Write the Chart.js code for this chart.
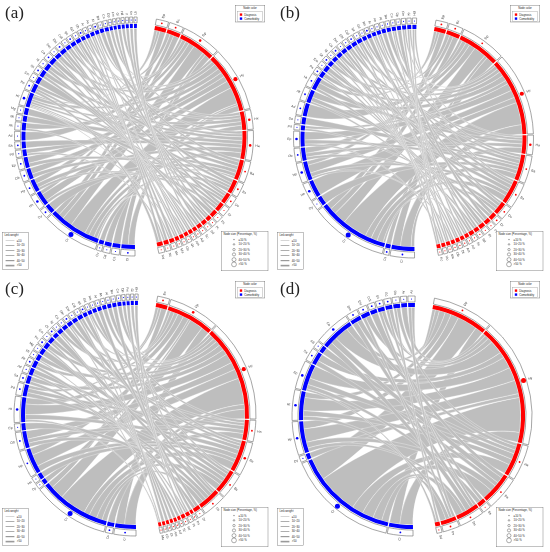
<!DOCTYPE html>
<html><head><meta charset="utf-8">
<script src="https://cdn.jsdelivr.net/npm/chart.js@4.4.1/dist/chart.umd.min.js"></script>
<style>
html,body{margin:0;padding:0;background:#fff}
body{width:550px;height:552px;position:relative;overflow:hidden;font-family:"Liberation Sans",Arial,sans-serif}
.panel{position:absolute;width:275px;height:276px}
.panel canvas{position:absolute;left:0;top:0}
.tag{position:absolute;left:5px;top:3px;font-family:"Liberation Serif","DejaVu Serif",serif;font-size:17px;line-height:20px;color:#222}
.lg{position:absolute;transform:scale(0.4);transform-origin:0 0;border:1.3px solid #666;background:#fff;font:7px/9px "Liberation Sans",Arial,sans-serif;color:#222;box-sizing:border-box}
.nc{left:235px;top:5px;width:75px;height:43px}
.nc .t{text-align:center;padding-top:3px;height:11px}
.nc .in{margin:1px 5px;border:1px solid #999;padding:2px 5px}
.nc .in div{height:10px;display:flex;align-items:center}
.nc i{display:inline-block;width:6px;height:6px;margin-right:5px}
.lw{left:2px;top:232px;width:66px;height:94px;padding:3px 5px}
.lw .t{margin-bottom:2px}
.lw .r{height:12.5px;display:flex;align-items:center;padding-left:3px}
.lw b{display:inline-block;width:22px;background:#9a9a9a;margin-right:6px}
.ns{left:221px;top:231px;width:118px;height:100px;padding:3px 5px}
.ns .t{margin-bottom:2px}
.ns .r{height:12.5px;display:flex;align-items:center;padding-left:18px}
.ns .c{display:inline-flex;width:16px;justify-content:center;align-items:center;margin-right:4px}
.ns s{display:inline-block;border:1px solid #333;border-radius:50%;box-sizing:border-box;background:#fff}
</style></head>
<body>
<div class="panel" id="pa" style="left:0;top:0"><canvas id="ca" width="275" height="276"></canvas><div class="tag">(a)</div></div>
<div class="panel" id="pb" style="left:275px;top:0"><canvas id="cb" width="275" height="276"></canvas><div class="tag">(b)</div></div>
<div class="panel" id="pc" style="left:0;top:276px"><canvas id="cc" width="275" height="276"></canvas><div class="tag">(c)</div></div>
<div class="panel" id="pd" style="left:275px;top:276px"><canvas id="cd" width="275" height="276"></canvas><div class="tag">(d)</div></div>
<script>
// ---------- legend texts ----------
const colorLegendTitle = "Node color";
const colorLegendItems = ["Diagnosis", "Comorbidity"];
const linkLegendTitle = "Link weight";
const linkLegendItems = ["≤10", "10~20", "20~30", "30~40", "40~50", ">50"];
const sizeLegendTitle = "Node size (Percentage, %)";
const sizeLegendItems = ["≤10 %", "10~20 %", "20~30 %", "30~40 %", "40~50 %", ">50 %"];

// ---------- panel (a) ----------
const aRedSize = [6, 7, 19, 31.5, 9.5, 14.5, 10.5, 7, 5.5, 4.5, 3.5, 2.5, 2.5, 2.5, 2, 2, 2, 2, 2, 2.5, 2.5, 3];
const aRedPct  = [1, 1, 2, 4, 2, 2, 1, 1, 1, 0, 0, 0, 0, 0, 0, 0, 0, 0, 0, 0, 0, 0];
const aRedLab  = ["Bp","Bc","Dp","Hy","Hx","Ha","Ba","Bs","Ds","Dr","Ps","Pt","Sd","Sc","Ad","Am","Ot","Ob","Ma","Mo","Nc","Nd"];
const aBlueSize = [7, 4, 3.5, 2.5, 27.5, 4.5, 7.5, 6.5, 5.5, 5.5, 3.5, 3.5, 4.5, 4, 3, 3.5, 7.5, 4.5, 3.5, 3.5, 3.5, 3.5, 3, 3, 2.5, 2.5, 2.5, 2, 2, 2, 2, 2, 2, 1.5, 1.5, 1.5, 1.5, 1.5, 1.5, 1.5];
const aBluePct  = [1, 0, 0, 0, 5, 1, 2, 1, 1, 1, 0, 1, 0, 0, 0, 0, 2, 1, 0, 1, 0, 1, 0, 1, 0, 1, 0, 1, 0, 0, 1, 0, 0, 0, 0, 0, 0, 0, 0, 0];
const aBlueLab  = ["Ci","Cs","Cd","Cv","Cr","Dy","Hn","Hp","Ob","Ep","Pd","Sa","Ad","Ak","Mi","Mg","Ht","Pn","Em","Ot","Ig","Ca","Dm","Ehl","Cdl","Ipt","Gd","Rh","Ar","As","Al","Ba","Co","Dp","Fm","Gi","Hd","Ir","Ks","Lb"];
const aLinks = [
 [0,4,3],[0,16,1.5],[0,30,1.5],
 [1,4,3],[1,6,2],[1,25,2],
 [2,4,6],[2,0,3],[2,7,3],[2,12,2],[2,20,2],[2,33,1.5],[2,1,1.5],
 [3,4,9],[3,0,3],[3,6,4],[3,8,3],[3,9,2.5],[3,13,2.5],[3,16,3],[3,22,2],[3,27,1.5],[3,2,1],
 [4,4,2.5],[4,10,2],[4,16,2],[4,24,1.5],[4,36,1.5],
 [5,4,3],[5,7,2.5],[5,11,2],[5,14,2],[5,17,2],[5,19,1.5],[5,28,1.5],
 [6,5,2],[6,8,2],[6,16,2],[6,21,2],[6,31,1.5],[6,3,1],
 [7,4,2],[7,9,1.5],[7,18,1.5],[7,26,2],
 [8,6,1.5],[8,15,1.5],[8,23,1.5],[8,34,1],
 [9,7,1.5],[9,17,1.5],[9,29,1.5],
 [10,16,1.5],[10,32,1],
 [11,19,1],[11,35,1],
 [12,20,1.5],[12,37,1],
 [13,16,1],[13,38,1],
 [14,21,1],[14,39,1],
 [15,22,1],[15,25,1],
 [16,23,1],[16,4,1],
 [17,24,1],[17,30,1],
 [18,26,1],[18,13,1],
 [19,27,1.5],[19,16,1],
 [20,28,1.5],[20,10,1],
 [21,29,1.5],[21,17,1.5]
];

// ---------- panel (b) ----------
const bRedSize = [6, 7, 22, 40.5, 9.5, 13.5, 12.5, 6.5, 3.5, 3, 3, 2.5, 2.5, 2, 2, 2, 2, 2, 2, 2];
const bRedPct  = [1, 1, 1, 4, 2, 1, 1, 1, 1, 0, 0, 0, 0, 0, 0, 0, 0, 0, 0, 0];
const bRedLab  = ["Bp","Bc","Dp","Hy","Ha","Ba","Bs","Ds","Dr","Ps","Pt","Sd","Sc","Ad","Am","Ot","Ob","Ma","Mo","Nc"];
const bBlueSize = [11.5, 2.5, 36.5, 4.5, 8.5, 9.5, 6.5, 7.5, 2.5, 3.5, 6.5, 6.5, 6.5, 3, 3, 2.5, 2.5, 2.5, 2.5, 2.5, 2.5, 2.5, 2, 2, 2, 2, 2, 2, 2, 2, 2, 2, 2];
const bBluePct  = [1, 1, 5, 0, 2, 2, 1, 2, 0, 0, 1, 1, 1, 1, 0, 1, 0, 1, 0, 0, 1, 0, 0, 1, 0, 0, 0, 0, 0, 0, 0, 0, 0];
const bBlueLab  = ["Ci","Cs","Cr","Dy","Hn","Hp","Ob","Ep","Pd","Sa","Ad","Ak","Ht","Pn","Em","Ot","Ig","Ca","Dm","Ehl","Cdl","Ipt","Gd","Rh","Ar","As","Al","Ba","Co","Dp","Fm","Gi","Hd"];
const bLinks = [
 [0,2,3],[0,12,1.5],[0,25,1.5],
 [1,2,3],[1,5,2],[1,20,2],
 [2,2,6],[2,0,4],[2,6,3],[2,10,2],[2,15,2],[2,28,1.5],[2,1,1.5],
 [3,2,12],[3,0,5],[3,4,3],[3,5,4],[3,7,4],[3,8,2],[3,11,3],[3,13,2.5],[3,17,2],[3,22,2],[3,30,1],
 [4,2,3],[4,6,2],[4,12,2],[4,19,1.5],[4,31,1],
 [5,2,3],[5,3,2],[5,7,2],[5,9,1.5],[5,14,2],[5,21,1.5],[5,27,1.5],
 [6,2,3],[6,5,2],[6,11,2],[6,16,2],[6,24,1.5],[6,32,1],
 [7,0,1.5],[7,6,1.5],[7,18,1.5],[7,26,1],
 [8,8,1.5],[8,23,1.5],
 [9,12,1],[9,29,1.5],
 [10,13,1],[10,20,1.5],
 [11,11,1],[11,25,1],
 [12,14,1],[12,28,1],
 [13,2,1],[13,22,1],
 [14,15,1],[14,30,1],
 [15,16,1],[15,24,1],
 [16,17,1],[16,5,1],
 [17,18,1],[17,31,1],
 [18,19,1],[18,7,1],
 [19,21,1],[19,32,1]
];

// ---------- panel (c) ----------
const cRedSize = [6, 25, 50.5, 10.5, 16.5, 12.5, 11.5, 3.5, 1.5, 2, 2, 1.5, 1.5, 1.5, 1.5, 1.5, 1.5];
const cRedPct  = [1, 2, 4, 1, 2, 1, 1, 0, 0, 0, 0, 0, 0, 0, 0, 0, 0];
const cRedLab  = ["Bc","Dp","Hy","Ha","Ba","Bs","Ds","Dr","Ps","Pt","Sd","Sc","Ad","Am","Ot","Ob","Ma"];
const cBlueSize = [10.5, 3.5, 36.5, 2.5, 3, 13, 8.5, 3.5, 12.5, 6, 4, 3.5, 3.5, 3, 3, 3, 3, 2.5, 2.5, 2.5, 2.5, 2.5, 2.5, 2, 2, 2, 2, 2, 2, 2, 2, 1.5, 1.5, 1.5, 1.5];
const cBluePct  = [1, 1, 5, 0, 0, 1, 1, 0, 2, 1, 1, 0, 1, 0, 0, 1, 0, 1, 0, 0, 1, 0, 0, 1, 0, 0, 0, 0, 0, 0, 0, 0, 0, 0, 0];
const cBlueLab  = ["Ci","Cs","Cr","Dy","Hn","Hp","Ob","Ep","Ht","Pd","Sa","Ad","Ak","Mi","Mg","Pn","Em","Ot","Ig","Ca","Dm","Ehl","Cdl","Ipt","Gd","Rh","Ar","As","Al","Ba","Co","Dp","Fm","Gi","Hd"];
const cLinks = [
 [0,2,3],[0,9,1.5],[0,22,1.5],
 [1,2,7],[1,0,4],[1,5,3],[1,8,3],[1,12,2],[1,18,2],[1,27,1.5],[1,3,1],
 [2,2,14],[2,0,5],[2,1,2.5],[2,5,5],[2,6,4],[2,8,5],[2,10,3],[2,13,3],[2,15,2.5],[2,20,2],[2,24,2],[2,30,1.5],
 [3,2,3],[3,6,2],[3,9,2],[3,16,1.5],[3,28,1.5],
 [4,2,4],[4,4,2],[4,5,2.5],[4,8,2.5],[4,11,2],[4,19,1.5],[4,25,1.5],
 [5,2,3],[5,6,2],[5,9,2],[5,14,2],[5,21,1.5],[5,31,1],
 [6,2,2.5],[6,7,2],[6,10,2],[6,17,2],[6,23,1.5],[6,33,1],
 [7,12,1.5],[7,26,1.5],
 [8,29,1],
 [9,13,1],[9,32,1],
 [10,15,1],[10,34,1],
 [11,11,1],
 [12,18,1],
 [13,20,1],
 [14,22,1],
 [15,24,1],
 [16,8,1],[16,16,1]
];

// ---------- panel (d) ----------
const dRedSize = [29, 62, 17, 16, 4, 12, 8, 2.5];
const dRedPct  = [1, 5, 1, 1, 0, 1, 1, 0];
const dRedLab  = ["Dp","Hy","Ha","Ba","Bs","Ds","Ps","Sd"];
const dBlueSize = [12.5, 54.5, 3, 16.5, 15, 14, 6.5, 3.5, 17.5, 5.5, 4.5, 3.5, 3.5, 3.5, 3.5, 3, 3.5];
const dBluePct  = [1, 5, 0, 2, 2, 2, 1, 0, 2, 1, 1, 1, 1, 1, 0, 0, 0];
const dBlueLab  = ["Ci","Cr","Dy","Hp","Ht","Ep","Sa","Ad","Ca","Dm","Ehl","Cdl","Ipt","Gd","Rh","Ar","As"];
const dLinks = [
 [0,1,10],[0,0,4],[0,3,4],[0,4,3],[0,8,3],[0,13,2],[0,16,1.5],
 [1,1,18],[1,0,5],[1,2,2],[1,3,7],[1,4,7],[1,5,6],[1,6,3],[1,8,7],[1,10,2.5],[1,12,2],[1,15,1.5],
 [2,1,5],[2,4,3],[2,5,3],[2,7,2],[2,9,2],[2,14,1.5],
 [3,1,5],[3,3,3],[3,6,2],[3,8,3],[3,11,2],
 [4,5,2],[4,12,1.5],
 [5,1,4],[5,3,2],[5,8,3],[5,9,2],[5,13,1.5],
 [6,1,3],[6,4,2],[6,10,1.5],[6,16,1.5],
 [7,5,1],[7,14,1]
];

// ---------- drawing ----------
const RED = '#FF0000', BLUE = '#0000FF', CLEAR = 'rgba(0,0,0,0)';
const CHORD_FILL = '#bebebe';
const GAP = 0.6, RSTART = 10.8, REND = 168, BSTART = 179.5, BEND = 361.5;
const DOT_R = [0.55, 0.9, 1.3, 1.7, 2.1, 2.5];
const CTRL = 0.45; // bezier control points: fraction of radius kept
const sum = a => a.reduce((s, v) => s + v, 0);
const TAU = Math.PI * 2;

function buildPanel(canvasId, geo, redSize, redPct, redLab, blueSize, bluePct, blueLab, links) {
  const rK = (REND - RSTART - (redSize.length - 1) * GAP) / sum(redSize);
  const bK = (BEND - BSTART - (blueSize.length - 1) * GAP) / sum(blueSize);
  const vals = [], kind = [], lab = [], pct = [], redEl = [], blueEl = [];
  const pushGap = v => { vals.push(v); kind.push('g'); lab.push(''); pct.push(0); };
  redSize.forEach((v, i) => {
    if (i) pushGap(GAP);
    redEl.push(vals.length); vals.push(v * rK); kind.push('r'); lab.push(redLab[i]); pct.push(redPct[i]);
  });
  pushGap(BSTART - REND);
  blueSize.forEach((v, i) => {
    if (i) pushGap(GAP);
    blueEl.push(vals.length); vals.push(v * bK); kind.push('b'); lab.push(blueLab[i]); pct.push(bluePct[i]);
  });
  pushGap(360 - (BEND - RSTART));

  const nodeCol = kind.map(k => k === 'r' ? RED : k === 'b' ? BLUE : CLEAR);
  const boxFill = kind.map(k => k === 'g' ? CLEAR : '#ffffff');
  const boxLine = kind.map(k => k === 'g' ? CLEAR : '#6a6a6a');

  const chordPlugin = {
    id: 'chords',
    beforeDatasetsDraw(chart) {
      const arcs = chart.getDatasetMeta(2).data;
      const cx = arcs[0].x, cy = arcs[0].y, R = arcs[0].innerRadius - 0.2;
      const mid = e => (arcs[e].startAngle + arcs[e].endAngle) / 2;
      const rr = [], br = [];
      const assign = (el, items, out) => {
        const m = mid(el);
        const dist = o => (((mid(o) - m) % TAU) + TAU) % TAU;
        items.sort((p, q) => dist(q.o) - dist(p.o));
        const tot = sum(items.map(t => t.w));
        let a = arcs[el].startAngle;
        const span = arcs[el].endAngle - a;
        items.forEach(t => { const da = span * t.w / tot; out[t.k] = [a, a + da]; a += da; });
      };
      redEl.forEach((el, i) => {
        const items = [];
        links.forEach((L, k) => { if (L[0] === i) items.push({k, o: blueEl[L[1]], w: L[2]}); });
        if (items.length) assign(el, items, rr);
      });
      blueEl.forEach((el, j) => {
        const items = [];
        links.forEach((L, k) => { if (L[1] === j) items.push({k, o: redEl[L[0]], w: L[2]}); });
        if (items.length) assign(el, items, br);
      });
      const ctx = chart.ctx;
      const pt = (a, r) => [cx + r * Math.cos(a), cy + r * Math.sin(a)];
      const curve = (a, b) => {
        const c1 = pt(a, R * CTRL), c2 = pt(b, R * CTRL), e = pt(b, R);
        ctx.bezierCurveTo(c1[0], c1[1], c2[0], c2[1], e[0], e[1]);
      };
      ctx.save();
      ctx.fillStyle = CHORD_FILL;
      ctx.strokeStyle = 'rgba(255,255,255,0.9)';
      ctx.lineWidth = 0.35;
      ctx.lineJoin = 'round';
      links.forEach((L, k) => {
        const [a1, a2] = rr[k], [b1, b2] = br[k];
        ctx.beginPath();
        const s = pt(a1, R);
        ctx.moveTo(s[0], s[1]);
        ctx.arc(cx, cy, R, a1, a2, false);
        curve(a2, b1);
        ctx.arc(cx, cy, R, b1, b2, false);
        curve(b2, a1);
        ctx.closePath();
        ctx.fill();
        ctx.stroke();
      });
      ctx.restore();
    },
    afterDatasetsDraw(chart) {
      const ctx = chart.ctx;
      const boxes = chart.getDatasetMeta(0).data;
      ctx.save();
      boxes.forEach((e, i) => {
        if (kind[i] === 'g') return;
        const th = (e.startAngle + e.endAngle) / 2;
        const rm = (e.innerRadius + e.outerRadius) / 2;
        ctx.beginPath();
        ctx.arc(e.x + rm * Math.cos(th), e.y + rm * Math.sin(th), DOT_R[pct[i]], 0, TAU);
        ctx.fillStyle = kind[i] === 'r' ? RED : BLUE;
        ctx.fill();
        const rl = e.outerRadius + 2.2;
        ctx.save();
        ctx.translate(e.x + rl * Math.cos(th), e.y + rl * Math.sin(th));
        let rot = th, align = 'left';
        if (Math.cos(th) < -0.02) { rot = th + Math.PI; align = 'right'; }
        ctx.rotate(rot);
        ctx.textAlign = align;
        ctx.textBaseline = 'middle';
        ctx.font = '3.4px "Liberation Sans", Arial, sans-serif';
        ctx.fillStyle = '#444';
        ctx.fillText(lab[i], 0, 0);
        ctx.restore();
      });
      ctx.restore();
    }
  };

  const W = 275, H = 276;
  const dx = 2 * geo.cx - W, dy = 2 * geo.cy - H;
  const padding = {left: Math.max(dx, 0), right: Math.max(-dx, 0), top: Math.max(dy, 0), bottom: Math.max(-dy, 0)};
  const cut = ((geo.r - 11) / geo.r * 100).toFixed(3) + '%';

  new Chart(document.getElementById(canvasId), {
    type: 'doughnut',
    data: {
      labels: lab,
      datasets: [
        {data: vals, backgroundColor: boxFill, borderColor: boxLine, borderWidth: 0.6, weight: 6},
        {data: vals, backgroundColor: CLEAR, borderWidth: 0, weight: 1},
        {data: vals, backgroundColor: nodeCol, borderWidth: 0, weight: 4}
      ]
    },
    options: {
      responsive: false,
      animation: false,
      events: [],
      rotation: RSTART,
      circumference: 360,
      radius: geo.r,
      cutout: cut,
      layout: {padding},
      plugins: {legend: {display: false}, tooltip: {enabled: false}, title: {display: false}}
    },
    plugins: [chordPlugin]
  });
}

function addLegends(panelId) {
  const p = document.getElementById(panelId);
  const lw = [1, 1.5, 2, 2.5, 3, 3.6];
  const ns = [3, 5, 7, 9, 11, 13];
  p.insertAdjacentHTML('beforeend',
    `<div class="lg nc"><div class="t">${colorLegendTitle}</div><div class="in">` +
    `<div><i style="background:${RED}"></i>${colorLegendItems[0]}</div>` +
    `<div><i style="background:${BLUE}"></i>${colorLegendItems[1]}</div></div></div>` +
    `<div class="lg lw"><div class="t">${linkLegendTitle}</div>` +
    linkLegendItems.map((s, i) => `<div class="r"><b style="height:${lw[i]}px"></b>${s}</div>`).join('') + `</div>` +
    `<div class="lg ns"><div class="t">${sizeLegendTitle}</div>` +
    sizeLegendItems.map((s, i) => `<div class="r"><span class="c"><s style="width:${ns[i]}px;height:${ns[i]}px"></s></span>${s}</div>`).join('') + `</div>`);
}

buildPanel('ca', {cx: 134, cy: 136.5, r: 119.5}, aRedSize, aRedPct, aRedLab, aBlueSize, aBluePct, aBlueLab, aLinks);
buildPanel('cb', {cx: 138.5, cy: 138, r: 120}, bRedSize, bRedPct, bRedLab, bBlueSize, bBluePct, bBlueLab, bLinks);
buildPanel('cc', {cx: 135, cy: 139, r: 121}, cRedSize, cRedPct, cRedLab, cBlueSize, cBluePct, cBlueLab, cLinks);
buildPanel('cd', {cx: 137, cy: 140, r: 120}, dRedSize, dRedPct, dRedLab, dBlueSize, dBluePct, dBlueLab, dLinks);
['pa', 'pb', 'pc', 'pd'].forEach(addLegends);
</script>
</body></html>
